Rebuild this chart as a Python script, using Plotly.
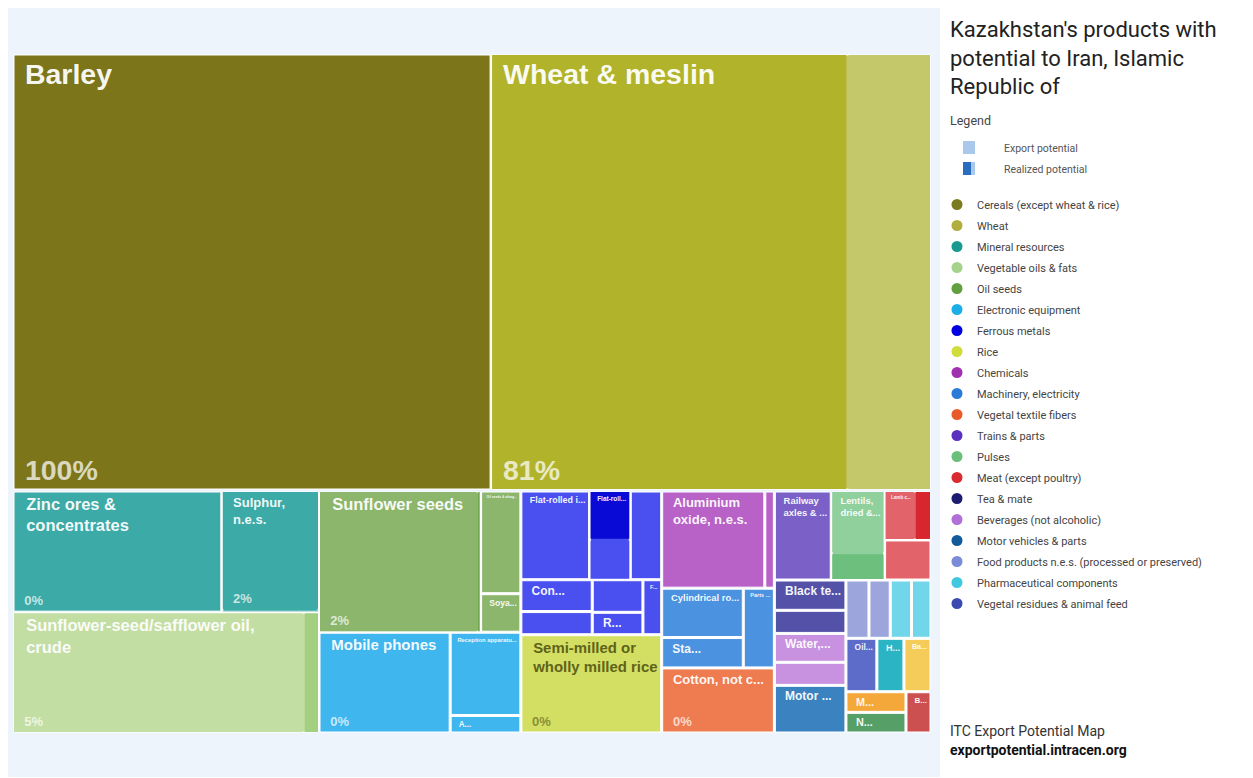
import plotly.graph_objects as go

# ---------------------------------------------------------------- data
sectors = [
    "Cereals (except wheat & rice)", "Wheat", "Mineral resources", "Vegetable oils & fats",
    "Oil seeds", "Electronic equipment", "Ferrous metals", "Rice", "Chemicals",
    "Machinery, electricity", "Vegetal textile fibers", "Trains & parts", "Pulses",
    "Meat (except poultry)", "Tea & mate", "Beverages (not alcoholic)", "Motor vehicles & parts",
    "Food products n.e.s. (processed or preserved)", "Pharmaceutical components",
    "Vegetal residues & animal feed",
]
# small sectors drawn in the map but not listed in the legend
extra_sectors = ["Other sector H", "Other sector M", "Other sector Ba", "Other sector N", "Other sector B"]
all_sectors = sectors + extra_sectors

product_names = [
    "Barley", "Wheat & meslin",
    "Zinc ores & concentrates", "Sulphur, n.e.s.",
    "Sunflower-seed/safflower oil, crude",
    "Sunflower seeds", "Oil seeds & oleaginous fruits", "Soya beans",
    "Mobile phones", "Reception apparatus", "A...",
    "Flat-rolled iron", "Flat-rolled iron (coated)", "Containers of iron or steel",
    "Ferrous product 4", "Ferrous product 5", "Ferrous product 6", "R...", "F...",
    "Semi-milled or wholly milled rice",
    "Aluminium oxide, n.e.s.", "Chemical product 2",
    "Cylindrical roller bearings", "Sta...", "Parts ...",
    "Cotton, not carded or combed",
    "Railway axles & wheels",
    "Lentils, dried & shelled",
    "Lamb carcasses", "Meat product 2",
    "Black tea", "Tea product 2",
    "Waters", "Beverage product 2",
    "Motor vehicles",
    "Food product 1", "Food product 2",
    "Pharmaceutical product 1", "Pharmaceutical product 2",
    "Oil-cake",
    "H...", "M...", "Ba...", "N...", "B...",
]
product_text = [
    "Barley", "Wheat & meslin",
    "Zinc ores &<br>concentrates", "Sulphur,<br>n.e.s.",
    "Sunflower-seed/safflower oil,<br>crude",
    "Sunflower seeds", "Oil seeds & oleag...", "Soya...",
    "Mobile phones", "Reception apparatu...", "A...",
    "Flat-rolled i...", "Flat-roll...", "Con...",
    "", "", "", "R...", "F...",
    "Semi-milled or<br>wholly milled rice",
    "Aluminium<br>oxide, n.e.s.", "",
    "Cylindrical ro...", "Sta...", "Parts ...",
    "Cotton, not c...",
    "Railway<br>axles & ...",
    "Lentils,<br>dried &...",
    "Lamb c...", "",
    "Black te...", "",
    "Water,...", "",
    "Motor ...",
    "", "",
    "", "",
    "Oil...",
    "H...", "M...", "Ba...", "N...", "B...",
]
product_sector = [
    0, 1,
    2, 2,
    3,
    4, 4, 4,
    5, 5, 5,
    6, 6, 6, 6, 6, 6, 6, 6,
    7,
    8, 8,
    9, 9, 9,
    10,
    11,
    12,
    13, 13,
    14, 14,
    15, 15,
    16,
    17, 17,
    18, 18,
    19,
    20, 21, 22, 23, 24,
]
potential = [
    206.6, 190.1,
    24.5, 11.4,
    35.8,
    22.1, 4.0, 1.5,
    12.8, 5.7, 1.2,
    5.9, 3.5, 2.2, 2.7, 1.6, 1.6, 1.1, 1.0,
    13.4,
    9.7, 0.9,
    3.9, 2.4, 2.4,
    7.1,
    4.9,
    4.6,
    2.2, 1.8,
    2.1, 1.6,
    2.0, 1.6,
    3.3,
    1.3, 1.2,
    1.2, 1.1,
    1.6,
    1.4, 1.2, 1.4, 1.2, 1.0,
]
realized_share = [
    1.00, 0.81,
    0.00, 0.02,
    0.05,
    0.02, 0.00, 0.00,
    0.00, 0.00, 0.00,
    0.00, 0.55, 0.00, 0.00, 0.00, 0.00, 0.00, 0.00,
    0.00,
    0.00, 0.00,
    0.00, 0.00, 0.00,
    0.00,
    0.00,
    0.30,
    0.35, 0.00,
    0.00, 0.00,
    0.00, 0.00,
    0.00,
    0.00, 0.00,
    0.00, 0.00,
    0.00,
    0.00, 0.00, 0.00, 0.00, 0.00,
]
pct_text = [
    "100%", "81%",
    "0%", "2%",
    "5%",
    "2%", "", "",
    "0%", "", "",
    "", "", "", "", "", "", "", "",
    "0%",
    "", "",
    "", "", "",
    "0%",
    "", "",
    "", "",
    "", "",
    "", "",
    "",
    "", "",
    "", "",
    "",
    "", "", "", "", "",
]

# ---------------------------------------------------------------- styles
# (realized colour, export-potential colour) per sector
SECTOR_STYLE = [
    ("#7c7519", "#aa9f60"), ("#b1b32a", "#c5c76b"), ("#1c9a8c", "#3caaa6"), ("#a3cf80", "#c3dea3"),
    ("#5f9e3a", "#8cb66c"), ("#18aee6", "#3fb6ee"), ("#0a0ad6", "#4a50f0"), ("#c5d430", "#d3df62"),
    ("#a030b0", "#b862c8"), ("#2a78d0", "#4b92e0"), ("#e85a28", "#ee7c50"), ("#5a30c0", "#7b60c8"),
    ("#6cbf7c", "#90d09c"), ("#d8262e", "#e2646a"), ("#1c1c70", "#5452a8"), ("#b070d8", "#c892e0"),
    ("#125a9a", "#3b82c0"), ("#7a8cd8", "#9ca6dc"), ("#40c8e0", "#72d6ea"), ("#3a4ab0", "#5c6cc8"),
    ("#20a8b8", "#2ab4c4"), ("#f09a10", "#f5a83a"), ("#f0c030", "#f5cc5a"), ("#3e8a50", "#56a068"),
    ("#b83838", "#cc5050"),
]
LEGEND_COLORS = ["#7b7a1f", "#b1ae3d", "#1a9a8e", "#a5d38b", "#629f3f", "#19aee6", "#0202e0",
                 "#cfdc3a", "#a030b0", "#2a7ad8", "#e85a28", "#5a30c0", "#6ac07a", "#d82c30",
                 "#1c1c70", "#b070d8", "#125a9a", "#7a8cd8", "#40c8e0", "#3a4ab0"]
DARK_TEXT_SECTORS = {7}
LABEL_FONT = "Liberation Sans, Arial, sans-serif"
UI_FONT = "Roboto, Arial, sans-serif"

# the page adds an 8 px body margin; the figure fills the rest of the 1253x778 window
OFF = 8
W, H = 1253 - OFF, 778 - OFF


def px(x):
    return (x - OFF) / W


def py(y):
    return 1 - (y - OFF) / H


def label_size(v):
    if v > 100:
        return 28.5
    if v > 20:
        return 16.5
    if v > 12:
        return 15
    if v > 4:
        return 13
    return 12


def pct_size(v):
    return 28.5 if v > 100 else 13


def inset(s, size):
    """indent every text line a little, like the original labels"""
    if not s:
        return ""
    n = 1 if size >= 20 else 2
    sp = "\u00a0" * n
    return "<br>".join(sp + line for line in s.split("<br>"))


def build(sec_idx, region):
    n = dict(ids=[], labels=[], parents=[], values=[], colors=[], lw=[],
             txt=[], pct=[], ls=[], ps=[], tc=[], pc=[])

    def add(i, lab, par, val, col, lw, t="", p="", ls=11, ps=11, tc="white", pc="white"):
        n["ids"].append(i); n["labels"].append(lab); n["parents"].append(par)
        n["values"].append(val); n["colors"].append(col); n["lw"].append(lw)
        n["txt"].append(t); n["pct"].append(p); n["ls"].append(ls); n["ps"].append(ps)
        n["tc"].append(tc); n["pc"].append(pc)

    root = region
    add(root, "", "", 0, "white", 0)
    for s in sec_idx:
        sid = f"{root}/s{s}"
        add(sid, all_sectors[s], root, 0, "white", 0)
        dark, light = SECTOR_STYLE[s]
        tc = "#5f631a" if s in DARK_TEXT_SECTORS else "rgba(255,255,255,0.95)"
        pc = "#8a8f3a" if s in DARK_TEXT_SECTORS else "rgba(255,255,255,0.72)"
        for p, ps_ in enumerate(product_sector):
            if ps_ != s:
                continue
            pid = f"{sid}/p{p}"
            share = realized_share[p]
            lsz, psz = label_size(potential[p]), pct_size(potential[p])
            t = f"<b>{inset(product_text[p], lsz)}</b>" if product_text[p] else ""
            pt = f"<b>{inset(pct_text[p], psz)}</b>" if pct_text[p] else ""
            kw = dict(ls=lsz, ps=psz, tc=tc, pc=pc)
            if 0 < share < 1:
                r_val = potential[p] * share
                u_val = potential[p] - r_val
                add(pid, product_names[p], sid, 0, light, 1)
                big_r = r_val >= u_val
                add(pid + "/r", product_names[p] + " – realized", pid, r_val, dark, 0,
                    t if big_r else "", pt if big_r else "", **kw)
                add(pid + "/u", product_names[p] + " – export potential", pid, u_val, light, 0,
                    "" if big_r else t, "" if big_r else pt, **kw)
            else:
                add(pid, product_names[p], sid, potential[p], dark if share >= 1 else light, 1,
                    t, pt, **kw)
    return n


def treemap_pair(n, domain):
    common = dict(
        ids=n["ids"], labels=n["labels"], parents=n["parents"], values=n["values"],
        branchvalues="remainder", sort=True, domain=domain,
        tiling=dict(packing="squarify", squarifyratio=1.618034, pad=2),
        pathbar=dict(visible=False), textinfo="text",
    )
    base = go.Treemap(
        **common,
        text=n["txt"],
        marker=dict(colors=n["colors"], line=dict(color="white", width=n["lw"]),
                    pad=dict(t=0, l=0, r=0, b=0), depthfade=False),
        textposition="top left",
        textfont=dict(family=LABEL_FONT, size=n["ls"], color=n["tc"]),
        hovertemplate="%{label}<br>Export potential: %{value}<extra></extra>",
    )
    overlay = go.Treemap(
        **common,
        text=n["pct"],
        marker=dict(colors=["rgba(0,0,0,0)"] * len(n["ids"]), line=dict(width=0),
                    pad=dict(t=0, l=0, r=0, b=0), depthfade=False),
        textposition="bottom left",
        textfont=dict(family=LABEL_FONT, size=n["ps"], color=n["pc"]),
        hoverinfo="skip",
    )
    return [base, overlay]


TOP_SECTORS = [0, 1]
BOTTOM_SECTORS = [s for s in range(len(all_sectors)) if s not in TOP_SECTORS]

top_dom = dict(x=[px(14), px(930)], y=[py(489), py(55)])
bot_dom = dict(x=[px(14), px(930)], y=[py(732), py(492)])

fig = go.Figure()
for tr in treemap_pair(build(TOP_SECTORS, "top"), top_dom):
    fig.add_trace(tr)
for tr in treemap_pair(build(BOTTOM_SECTORS, "bottom"), bot_dom):
    fig.add_trace(tr)

# legend entries (one per sector)
for name, col in zip(sectors, LEGEND_COLORS):
    fig.add_trace(go.Scatter(x=[None], y=[None], mode="markers", name=name, legendgroup=name,
                             marker=dict(size=11, color=col, symbol="circle"),
                             hoverinfo="skip"))

shapes = [
    dict(type="rect", xref="paper", yref="paper", x0=px(7), x1=px(940), y0=py(777), y1=py(5),
         fillcolor="#eef4fc", line=dict(width=0), layer="below"),
    dict(type="rect", xref="paper", yref="paper", x0=px(963), x1=px(975), y0=py(154), y1=py(141),
         fillcolor="#a9c8ec", line=dict(width=0)),
    dict(type="rect", xref="paper", yref="paper", x0=px(963), x1=px(975), y0=py(175), y1=py(162),
         fillcolor="#a9c8ec", line=dict(width=0)),
    dict(type="rect", xref="paper", yref="paper", x0=px(963), x1=px(971), y0=py(175), y1=py(162),
         fillcolor="#2a6cc0", line=dict(width=0)),
]

annotations = [
    dict(x=px(948), y=py(15), xref="paper", yref="paper", xanchor="left", yanchor="top",
         align="left", showarrow=False,
         text="Kazakhstan's products with<br>potential to Iran, Islamic<br>Republic of",
         font=dict(family=UI_FONT, size=22, color="#222222")),
    dict(x=px(948), y=py(120), xref="paper", yref="paper", xanchor="left", yanchor="middle",
         showarrow=False, text="Legend", font=dict(family=UI_FONT, size=12.5, color="#444444")),
    dict(x=px(1002), y=py(148), xref="paper", yref="paper", xanchor="left", yanchor="middle",
         showarrow=False, text="Export potential", font=dict(family=UI_FONT, size=10.5, color="#555555")),
    dict(x=px(1002), y=py(170), xref="paper", yref="paper", xanchor="left", yanchor="middle",
         showarrow=False, text="Realized potential", font=dict(family=UI_FONT, size=10.5, color="#555555")),
    dict(x=px(948), y=py(731), xref="paper", yref="paper", xanchor="left", yanchor="middle",
         showarrow=False, text="ITC Export Potential Map",
         font=dict(family=UI_FONT, size=14, color="#333333")),
    dict(x=px(948), y=py(750), xref="paper", yref="paper", xanchor="left", yanchor="middle",
         showarrow=False, text="<b>exportpotential.intracen.org</b>",
         font=dict(family=UI_FONT, size=14, color="#111111")),
]

fig.update_layout(
    width=W, height=H,
    margin=dict(l=0, r=0, t=0, b=0),
    paper_bgcolor="white", plot_bgcolor="rgba(0,0,0,0)",
    xaxis=dict(visible=False), yaxis=dict(visible=False),
    shapes=shapes, annotations=annotations,
    showlegend=True,
    legend=dict(x=px(937), y=py(190), xanchor="left", yanchor="top",
                bgcolor="rgba(0,0,0,0)", borderwidth=0, traceorder="grouped",
                tracegroupgap=2, itemsizing="trace",
                font=dict(family=UI_FONT, size=11, color="#444444")),
    hovermode="closest",
)

fig.write_html("out.html")
